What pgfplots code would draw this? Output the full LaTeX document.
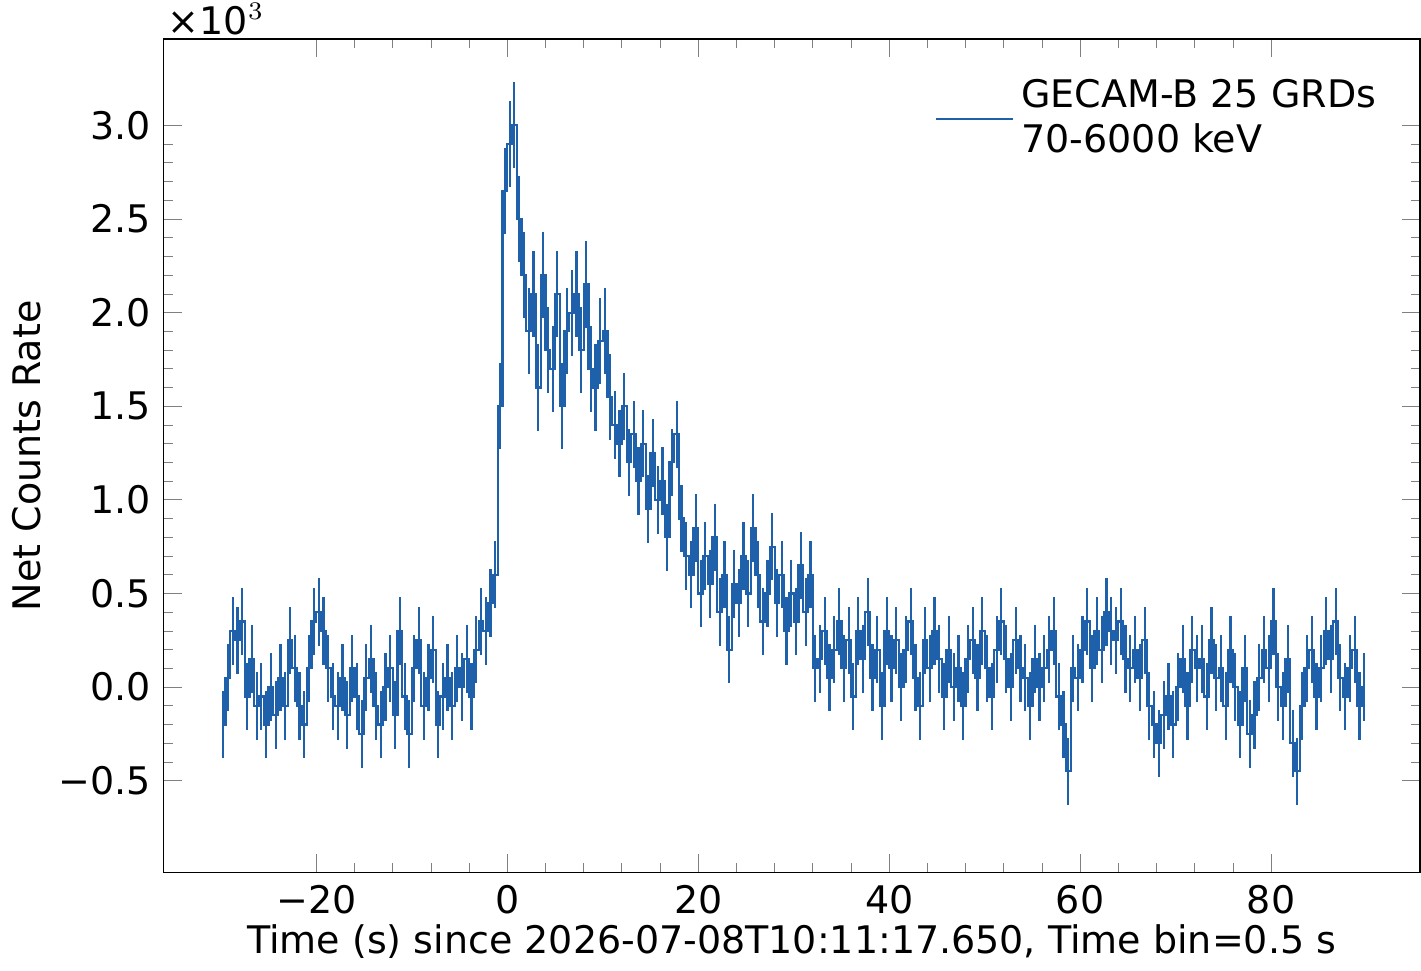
\documentclass[border=0pt]{standalone}
\usepackage{pgfplots}
\usepackage{pgfplotstable}
\usepackage{fontspec}
\setmainfont{DejaVu Sans}
\pgfplotsset{compat=1.18}
\definecolor{lc}{RGB}{30,96,170}
\pgfplotstableread{
y
-0.2
0.05
0.3
0.25
0.35
-0.05
0.15
-0.1
-0.05
-0.2
0.0
-0.15
0.05
-0.1
0.25
0.1
-0.1
-0.2
0.1
0.35
0.4
0.3
0.1
-0.05
-0.1
0.05
-0.15
0.1
-0.05
-0.25
0.05
0.15
-0.1
-0.2
0.0
0.1
-0.15
0.3
-0.05
-0.25
0.1
0.25
-0.1
0.05
0.2
-0.2
-0.05
0.05
-0.1
0.1
0.0
0.15
-0.05
0.2
0.35
0.3
0.45
0.6
1.5
2.65
2.9
3.0
2.5
2.2
1.9
2.1
1.6
2.2
1.8
1.7
2.1
1.5
1.9
2.0
2.1
1.8
2.15
1.7
1.6
1.85
1.9
1.55
1.4
1.3
1.5
1.2
1.35
1.1
1.3
0.95
1.25
1.0
1.1
0.8
1.2
1.35
0.9
0.7
0.6
0.85
0.5
0.7
0.55
0.8
0.4
0.6
0.2
0.55
0.45
0.7
0.5
0.85
0.6
0.35
0.5
0.75
0.45
0.6
0.3
0.5
0.35
0.65
0.4
0.6
0.1
0.15
0.3
0.05
0.2
0.35
0.1
0.25
-0.05
0.3
0.15
0.4
0.05
0.2
-0.1
0.3
0.1
0.25
0.0
0.2
0.35
0.05
-0.1
0.25
0.1
0.3
0.15
-0.05
0.2
0.0
0.1
-0.1
0.15
0.25
0.05
0.3
0.1
-0.05
0.2
0.35
0.15
0.0
0.25
0.1
0.05
-0.1
0.15
0.0
0.1
0.2
0.3
-0.05
-0.2
-0.45
0.1
0.05
0.2
0.35
0.1
0.3
0.2
0.4
0.3
0.25
0.35
0.15
0.1
0.2
0.05
0.25
-0.1
-0.2
-0.3
-0.15
-0.05
-0.2
0.0
0.15
-0.1
0.2
0.1
0.15
-0.05
0.25
0.05
0.1
-0.1
0.2
0.0
-0.2
0.1
-0.25
-0.15
0.05
0.2
0.1
0.35
0.0
-0.1
0.15
-0.3
-0.45
-0.1
0.1
0.2
-0.05
0.1
0.3
0.15
0.35
0.05
-0.05
0.1
0.2
-0.1
0.0
}\lc
\begin{document}
\begin{tikzpicture}
\begin{axis}[
  scale only axis, width=12.2cm, height=8.09cm,
  xmin=-36, xmax=95.6, ymin=-0.99, ymax=3.46,
  xtick={-20,0,20,40,60,80},
  ytick={-0.5,0,0.5,1,1.5,2,2.5,3},
  yticklabels={−0.5,0.0,0.5,1.0,1.5,2.0,2.5,3.0},
  xticklabels={−20,0,20,40,60,80},
  minor x tick num=4, minor y tick num=4,
  tick align=inside, tick pos=both,
  major tick length=5pt, minor tick length=2.5pt,
  axis line style={line width=0.5pt},
  font=\fontsize{10}{12}\selectfont,
  tick label style={font=\fontsize{10.5}{12}\selectfont},
  xlabel={Time (s) since 2026-07-08T10:11:17.650, Time bin=0.5 s},
  ylabel={Net Counts Rate},
  xlabel style={font=\fontsize{10.5}{12}\selectfont, yshift=4pt},
  ylabel style={font=\fontsize{10.5}{12}\selectfont, yshift=-2pt},
  legend style={draw=none, at={(0.98,0.97)}, anchor=north east, fill=none, font=\fontsize{10.5}{12.5}\selectfont, align=left},
  legend image code/.code={\draw[#1] (0cm,0cm) -- (0.75cm,0cm);},
  legend cell align=left,
  clip=false,
]
\addplot[lc, line width=0.6pt, const plot mark mid]
  table[x expr=\coordindex*0.5-29.75, y=y] {\lc};
\addlegendentry{GECAM-B 25 GRDs\\70-6000 keV}
\addplot[lc, line width=0.6pt, draw=none, forget plot,
  error bars/.cd, y dir=both, y explicit, error bar style={lc, line width=0.6pt}, error mark=none]
  table[x expr=\coordindex*0.5-29.75, y=y,
        y error expr={(\coordindex>57 && \coordindex<82) ? 0.23 : 0.18}] {\lc};
\node[anchor=south west, font=\fontsize{10.5}{12}\selectfont, inner sep=1pt] at (rel axis cs:0,1) {×10$^{3}$};
\end{axis}
\end{tikzpicture}
\end{document}
